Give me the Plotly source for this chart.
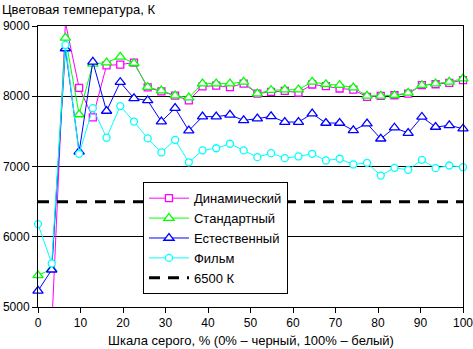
import numpy as np
import plotly.graph_objects as go

# Grey scale positions, % (32 steps)
x_vals = [round(i * 100 / 31, 3) for i in range(32)]

dinamic = [4300, 4700, 9050, 8120, 7700, 8440, 8450, 8480, 8125, 8070, 8010, 7940,
           8140, 8150, 8130, 8181, 8038, 8062, 8076, 8052, 8167, 8143, 8110, 8095,
           7990, 8005, 8014, 8038, 8157, 8171, 8190, 8229]
standard = [5450, 5540, 8830, 7740, 8460, 8480, 8560, 8470, 8130, 8080, 8010, 7980,
            8180, 8180, 8180, 8204, 8038, 8086, 8095, 8095, 8204, 8171, 8157, 8124,
            8005, 8005, 8014, 8048, 8157, 8181, 8204, 8252]
natural = [5230, 5530, 8680, 7210, 8490, 7790, 8200, 7970, 7940, 7640, 7830, 7510,
           7710, 7710, 7735, 7657, 7681, 7714, 7633, 7633, 7752, 7619, 7619, 7514,
           7610, 7395, 7552, 7476, 7705, 7562, 7586, 7538]
film = [6180, 5620, 8730, 7180, 7830, 7410, 7860, 7640, 7400, 7200, 7380, 7060,
        7230, 7260, 7324, 7229, 7133, 7190, 7119, 7143, 7181, 7086, 7110, 7029,
        7052, 6871, 6981, 6952, 7095, 6976, 7014, 6990]
ref_x = [0, 100]
ref_y = [6500, 6500]

names = ["Динамический", "Стандартный", "Естественный", "Фильм", "6500 К"]
y_ticks = [5000, 6000, 7000, 8000, 9000]
x_ticks = [0, 10, 20, 30, 40, 50, 60, 70, 80, 90, 100]

FONT = "Liberation Sans, Arial, sans-serif"

fig = go.Figure()
series = [
    (dinamic, "#FF00FF", "square", 7),
    (standard, "#00FF00", "triangle-up", 9),
    (natural, "#0000FF", "triangle-up", 9),
    (film, "#00FFFF", "circle", 7),
]
for (vals, col, sym, sz), nm in zip(series, names[:4]):
    fig.add_trace(go.Scatter(
        x=x_vals, y=vals, name=nm, mode="lines+markers",
        line=dict(color=col, width=1),
        marker=dict(symbol=sym, size=sz, color="white",
                    line=dict(color=col, width=1.3)),
        cliponaxis=False,
    ))
fig.add_trace(go.Scatter(
    x=ref_x, y=ref_y, name=names[4], mode="lines",
    line=dict(color="black", width=3, dash="11px,8px"),
))

fig.update_layout(
    width=473, height=349,
    margin=dict(l=38, r=10, t=26, b=42),
    paper_bgcolor="white", plot_bgcolor="white",
    font=dict(family=FONT, size=12, color="black"),
    showlegend=True,
    legend=dict(
        x=0.247, y=0.444, xanchor="left", yanchor="top",
        bgcolor="white", bordercolor="black", borderwidth=1,
        font=dict(family=FONT, size=13, color="black"),
        itemwidth=40, tracegroupgap=0,
    ),
    xaxis=dict(
        range=[0, 100], tickvals=x_ticks, ticks="outside", ticklen=5,
        tickcolor="black", showline=True, linecolor="black", linewidth=1,
        mirror=True, showgrid=False, zeroline=False, automargin=False,
        ticklabeloverflow="allow",
        tickfont=dict(family=FONT, size=12, color="black"),
    ),
    yaxis=dict(
        range=[5000, 9000], tickvals=y_ticks, ticks="outside", ticklen=5,
        tickcolor="black", showline=True, linecolor="black", linewidth=1,
        mirror=True, showgrid=True, gridcolor="black", gridwidth=1,
        zeroline=False, automargin=False, ticklabeloverflow="allow",
        tickfont=dict(family=FONT, size=12, color="black"),
    ),
    annotations=[
        dict(text="Цветовая температура, К", xref="paper", yref="paper",
             x=-38 / 425, y=1 + 26 / 280, xanchor="left", yanchor="top",
             showarrow=False, font=dict(family=FONT, size=13, color="black")),
        dict(text="Шкала серого, % (0% – черный, 100% – белый)", xref="paper",
             yref="paper", x=0.5, y=-0.118, xanchor="center", yanchor="middle",
             showarrow=False, font=dict(family=FONT, size=13, color="black")),
    ],
)

fig.write_html("out.html")
